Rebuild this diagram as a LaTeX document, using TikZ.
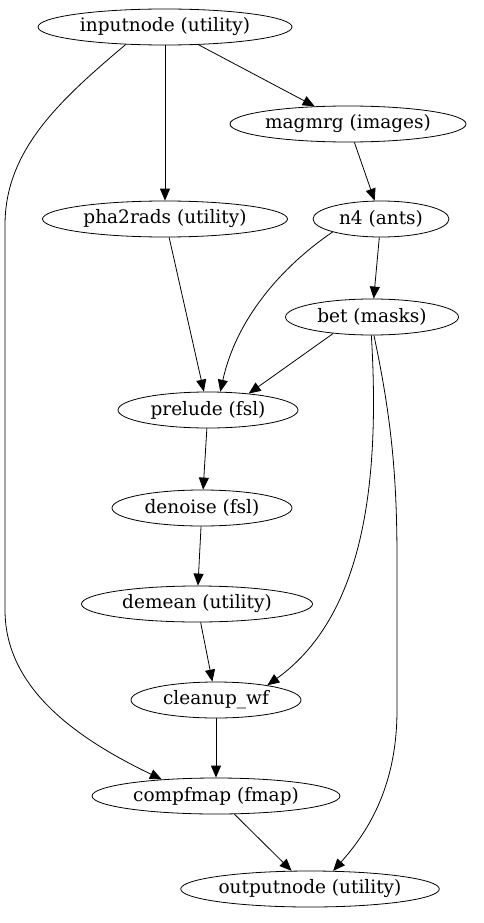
\documentclass[tikz,border=0pt]{standalone}
\usepackage{fontspec}
\setmainfont{DejaVu Serif}
\usetikzlibrary{shapes.geometric,arrows.meta}

\begin{document}
\begin{tikzpicture}[
  x=1pt,y=-1pt,
  proc/.style={ellipse,draw=black,thick,minimum height=36pt,inner sep=0pt,
    font=\fontsize{18.5}{22}\selectfont},
  flow/.style={-{Triangle[length=12pt,width=10pt]},thick}]
  \useasboundingbox (0,0) rectangle (483,923);

% Nodes, top to bottom
  \node[proc,minimum width=254pt] (inputnode) at (165,27) {inputnode (utility)};
  \node[proc,minimum width=236pt] (magmrg)    at (348,124) {magmrg (images)};
  \node[proc,minimum width=245pt] (pha2rads)  at (165,219) {pha2rads (utility)};
  \node[proc,minimum width=136pt] (n4)        at (381,219) {n4 (ants)};
  \node[proc,minimum width=173pt] (bet)       at (372,317) {bet (masks)};
  \node[proc,minimum width=180pt] (prelude)   at (208,410) {prelude (fsl)};
  \node[proc,minimum width=180pt] (denoise)   at (202,508) {denoise (fsl)};
  \node[proc,minimum width=231pt] (demean)    at (197,604) {demean (utility)};
  \node[proc,minimum width=170pt] (cleanup)   at (216,700) {cleanup\_wf};
  \node[proc,minimum width=248pt] (compfmap)  at (216,796) {compfmap (fmap)};
  \node[proc,minimum width=258pt] (outputnode) at (310,889) {outputnode (utility)};

% Straight connections
  \foreach \a/\b in {inputnode/magmrg,inputnode/pha2rads,magmrg/n4,n4/bet,
    pha2rads/prelude,prelude/denoise,denoise/demean,
    demean/cleanup,cleanup/compfmap,compfmap/outputnode}
    \draw[flow] (\a) -- (\b);
  \draw[flow] (bet.-157) -- (prelude.22);

% Curved connections
  \draw[flow] (inputnode.-156) .. controls (60,100) and (5,150) .. (5,225)
    -- (5,610) .. controls (5,690) and (80,740) .. (compfmap.163);
  \draw[flow] (n4.-165) .. controls (280,268) and (236,320) .. (prelude.56);
  \draw[flow] (bet.-92) .. controls (380,480) and (365,615) .. (cleanup.16);
  \draw[flow] (bet.-84) .. controls (392,420) and (397,480) .. (397,560)
    -- (397,710) .. controls (397,790) and (365,835) .. (outputnode.38);
\end{tikzpicture}
\end{document}
